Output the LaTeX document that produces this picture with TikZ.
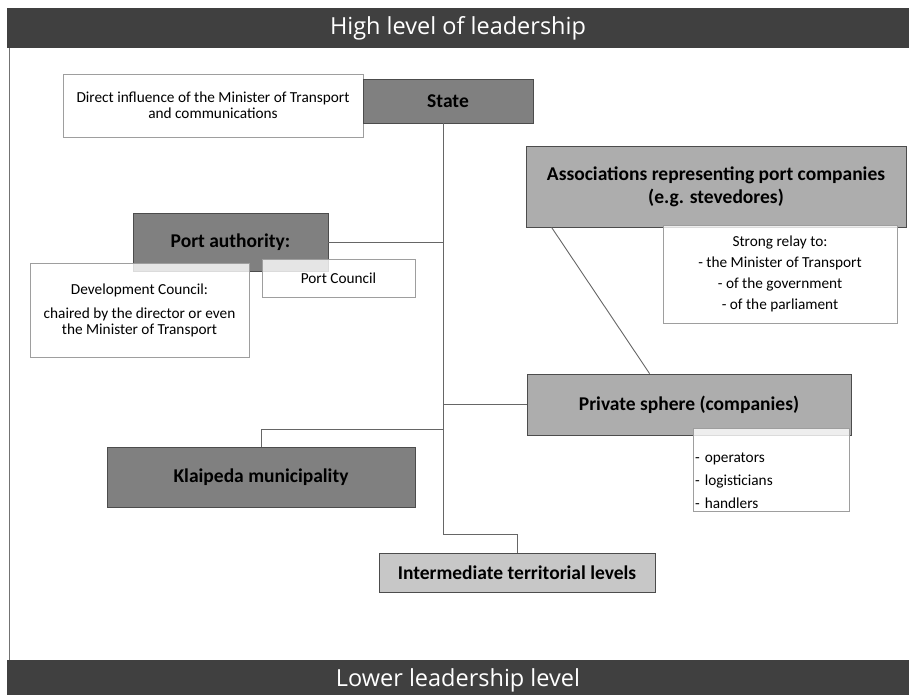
\documentclass[tikz,border=0pt]{standalone}
\usepackage{fontspec}
\setmainfont{Carlito}
\newfontfamily\barfont{Open Sans}
\usetikzlibrary{calc}
\colorlet{bardark}{black!75}
\colorlet{boxdark}{black!50}
\colorlet{boxmid}{black!32}
\colorlet{boxlight}{black!22}
\colorlet{linegray}{black!60}
\colorlet{notegray}{black!38}
\tikzstyle{bar}=[fill=bardark,text=white,minimum width=902pt,minimum height=40pt,inner sep=0pt,font=\barfont\fontsize{23.5}{26}\selectfont]
\tikzstyle{actor}=[draw=black!70,line width=.8pt,inner sep=0pt,align=center,font=\bfseries\fontsize{19.5}{23}\selectfont]
\tikzstyle{note}=[draw=notegray,fill=white,fill opacity=.8,text opacity=1,line width=.8pt,inner sep=0pt,align=center,font=\fontsize{15.3}{16}\selectfont]
\tikzstyle{link}=[draw=linegray,line width=.9pt]

\begin{document}
\begin{tikzpicture}[x=1pt,y=-1pt]
	\useasboundingbox (0,0) rectangle (909,694);
	% levels
	\node[bar] (high) at (458,28) {High level of leadership};
	\node[bar,anchor=north] (low) at (458,660) {Lower leadership level};
	\draw[draw=black!55,line width=.8pt] (9,48) -- (9,660);
	% actors
	\node[note,minimum width=300pt,minimum height=63pt] (direct) at (213,105.5) {Direct influence of the Minister of Transport\\and communications};
	\node[actor,fill=boxdark,minimum width=170pt,minimum height=44pt] (state) at (448,101) {State};
	\node[actor,fill=boxmid,minimum width=380pt,minimum height=81pt] (assoc) at (716,186.5) {Associations representing port companies\\(e.g. stevedores)};
	\node[note,minimum width=234pt,minimum height=98pt,font=\fontsize{15.3}{21}\selectfont] (relay) at (780,274) {Strong relay to:\\- the Minister of Transport\\- of the government\\- of the parliament};
	\node[actor,fill=boxdark,minimum width=195pt,minimum height=58pt] (port) at (230.5,242) {Port authority:};
	\node[note,minimum width=219pt,minimum height=94pt] (devcouncil) at (139.5,310) {Development Council:\\[8pt]chaired by the director or even\\the Minister of Transport};
	\node[note,minimum width=153pt,minimum height=38pt] (portcouncil) at (338.5,278) {Port Council};
	\node[actor,fill=boxmid,minimum width=324pt,minimum height=61pt] (private) at (689,404.5) {Private sphere (companies)};
	\node[note,minimum height=83pt,text width=152pt,inner xsep=2pt,align=left,font=\fontsize{15.3}{23}\selectfont] (operators) at (771,469.5) {\mbox{}\\[10pt]- operators\\- logisticians\\- handlers};
	\node[actor,fill=boxdark,minimum width=308pt,minimum height=60pt] (klaipeda) at (261,477) {Klaipeda municipality};
	\node[actor,fill=boxlight,minimum width=276pt,minimum height=39pt] (inter) at (517,572.5) {Intermediate territorial levels};
	% links
	\coordinate (trunk) at (443,534);
	\coordinate (kjoint) at (443,429);
	\draw[link] (state.south -| trunk) -- (trunk) -| (inter.north);
	\draw[link] (port.east) -- (port.east -| trunk);
	\draw[link] (private.west) -- (private.west -| trunk);
	\draw[link] (klaipeda.north) |- (kjoint);
	\draw[link] ($(assoc.south west)+(26,0)$) -- ($(private.north west)+(123,0)$);
\end{tikzpicture}
\end{document}
